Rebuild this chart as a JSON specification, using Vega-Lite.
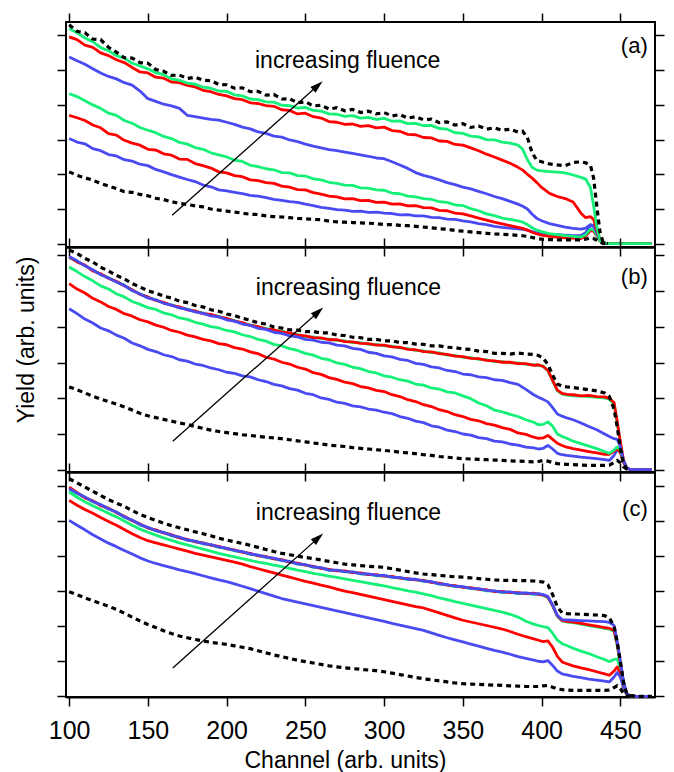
{
"$schema": "https://vega.github.io/schema/vega-lite/v6.json",
"background": "white",
"padding": {"left": 13, "top": 11, "right": 5, "bottom": 0},
"bounds": "flush",
"spacing": 0,
"config": {"view": {"stroke": "black", "strokeWidth": 2}, "font": "Liberation Sans"},
"resolve": {"scale": {"x": "independent", "y": "independent", "color": "independent"}},
"datasets": {
"a": [
{"x":100,"d1":2.07,"b1":3.03,"r1":3.70,"g1":4.32,"b2":5.38,"r2":5.96,"g2":6.20,"d2":6.31},
{"x":105,"d1":1.97,"b1":2.93,"r1":3.63,"g1":4.24,"b2":5.27,"r2":5.88,"g2":6.08,"d2":6.12},
{"x":110,"d1":1.90,"b1":2.88,"r1":3.55,"g1":4.12,"b2":5.17,"r2":5.72,"g2":5.93,"d2":6.08},
{"x":115,"d1":1.83,"b1":2.74,"r1":3.42,"g1":4.00,"b2":5.04,"r2":5.66,"g2":5.82,"d2":5.90},
{"x":120,"d1":1.74,"b1":2.68,"r1":3.34,"g1":3.90,"b2":4.92,"r2":5.50,"g2":5.65,"d2":5.88},
{"x":125,"d1":1.66,"b1":2.57,"r1":3.17,"g1":3.76,"b2":4.82,"r2":5.42,"g2":5.56,"d2":5.66},
{"x":130,"d1":1.59,"b1":2.53,"r1":3.13,"g1":3.70,"b2":4.75,"r2":5.30,"g2":5.42,"d2":5.52},
{"x":135,"d1":1.50,"b1":2.42,"r1":2.98,"g1":3.55,"b2":4.64,"r2":5.22,"g2":5.35,"d2":5.36},
{"x":140,"d1":1.48,"b1":2.38,"r1":2.90,"g1":3.47,"b2":4.57,"r2":5.08,"g2":5.20,"d2":5.35},
{"x":145,"d1":1.42,"b1":2.29,"r1":2.84,"g1":3.35,"b2":4.40,"r2":4.95,"g2":5.12,"d2":5.22},
{"x":150,"d1":1.38,"b1":2.25,"r1":2.72,"g1":3.27,"b2":4.18,"r2":4.92,"g2":5.04,"d2":5.20},
{"x":155,"d1":1.31,"b1":2.14,"r1":2.70,"g1":3.20,"b2":4.10,"r2":4.80,"g2":4.93,"d2":5.02},
{"x":160,"d1":1.27,"b1":2.07,"r1":2.59,"g1":3.09,"b2":4.02,"r2":4.77,"g2":4.87,"d2":4.97},
{"x":165,"d1":1.21,"b1":1.99,"r1":2.55,"g1":3.03,"b2":3.97,"r2":4.66,"g2":4.75,"d2":4.85},
{"x":170,"d1":1.16,"b1":1.92,"r1":2.44,"g1":2.92,"b2":3.90,"r2":4.64,"g2":4.71,"d2":4.86},
{"x":175,"d1":1.13,"b1":1.85,"r1":2.43,"g1":2.87,"b2":3.70,"r2":4.56,"g2":4.63,"d2":4.76},
{"x":180,"d1":1.09,"b1":1.79,"r1":2.31,"g1":2.77,"b2":3.66,"r2":4.52,"g2":4.60,"d2":4.80},
{"x":185,"d1":1.06,"b1":1.69,"r1":2.25,"g1":2.72,"b2":3.62,"r2":4.42,"g2":4.51,"d2":4.71},
{"x":190,"d1":1.00,"b1":1.64,"r1":2.18,"g1":2.62,"b2":3.58,"r2":4.38,"g2":4.48,"d2":4.70},
{"x":195,"d1":0.97,"b1":1.55,"r1":2.07,"g1":2.56,"b2":3.56,"r2":4.30,"g2":4.40,"d2":4.59},
{"x":200,"d1":0.94,"b1":1.52,"r1":2.04,"g1":2.50,"b2":3.50,"r2":4.26,"g2":4.39,"d2":4.58},
{"x":205,"d1":0.91,"b1":1.48,"r1":1.96,"g1":2.41,"b2":3.44,"r2":4.18,"g2":4.29,"d2":4.48},
{"x":210,"d1":0.88,"b1":1.44,"r1":1.93,"g1":2.37,"b2":3.36,"r2":4.15,"g2":4.26,"d2":4.49},
{"x":215,"d1":0.85,"b1":1.39,"r1":1.84,"g1":2.26,"b2":3.31,"r2":4.06,"g2":4.17,"d2":4.38},
{"x":220,"d1":0.84,"b1":1.37,"r1":1.82,"g1":2.22,"b2":3.22,"r2":4.04,"g2":4.15,"d2":4.39},
{"x":225,"d1":0.80,"b1":1.33,"r1":1.76,"g1":2.16,"b2":3.18,"r2":3.98,"g2":4.09,"d2":4.28},
{"x":230,"d1":0.78,"b1":1.28,"r1":1.74,"g1":2.13,"b2":3.10,"r2":3.96,"g2":4.08,"d2":4.30},
{"x":235,"d1":0.77,"b1":1.25,"r1":1.66,"g1":2.05,"b2":3.07,"r2":3.86,"g2":3.99,"d2":4.17},
{"x":240,"d1":0.75,"b1":1.21,"r1":1.63,"g1":2.04,"b2":2.99,"r2":3.84,"g2":3.98,"d2":4.18},
{"x":245,"d1":0.73,"b1":1.19,"r1":1.56,"g1":1.96,"b2":2.94,"r2":3.74,"g2":3.91,"d2":4.06},
{"x":250,"d1":0.72,"b1":1.14,"r1":1.55,"g1":1.95,"b2":2.87,"r2":3.76,"g2":3.93,"d2":4.09},
{"x":255,"d1":0.70,"b1":1.10,"r1":1.47,"g1":1.87,"b2":2.81,"r2":3.66,"g2":3.84,"d2":3.97},
{"x":260,"d1":0.69,"b1":1.05,"r1":1.43,"g1":1.84,"b2":2.76,"r2":3.62,"g2":3.82,"d2":3.99},
{"x":265,"d1":0.65,"b1":1.02,"r1":1.37,"g1":1.77,"b2":2.71,"r2":3.52,"g2":3.74,"d2":3.88},
{"x":270,"d1":0.63,"b1":0.98,"r1":1.35,"g1":1.74,"b2":2.68,"r2":3.50,"g2":3.73,"d2":3.92},
{"x":275,"d1":0.62,"b1":0.97,"r1":1.29,"g1":1.69,"b2":2.64,"r2":3.44,"g2":3.67,"d2":3.83},
{"x":280,"d1":0.61,"b1":0.93,"r1":1.30,"g1":1.68,"b2":2.60,"r2":3.45,"g2":3.69,"d2":3.87},
{"x":285,"d1":0.60,"b1":0.94,"r1":1.24,"g1":1.61,"b2":2.56,"r2":3.38,"g2":3.62,"d2":3.78},
{"x":290,"d1":0.59,"b1":0.90,"r1":1.25,"g1":1.60,"b2":2.52,"r2":3.40,"g2":3.64,"d2":3.82},
{"x":295,"d1":0.58,"b1":0.91,"r1":1.19,"g1":1.55,"b2":2.47,"r2":3.34,"g2":3.58,"d2":3.74},
{"x":300,"d1":0.55,"b1":0.88,"r1":1.20,"g1":1.54,"b2":2.45,"r2":3.36,"g2":3.61,"d2":3.78},
{"x":305,"d1":0.55,"b1":0.87,"r1":1.14,"g1":1.46,"b2":2.36,"r2":3.26,"g2":3.53,"d2":3.68},
{"x":310,"d1":0.53,"b1":0.83,"r1":1.15,"g1":1.44,"b2":2.27,"r2":3.24,"g2":3.54,"d2":3.72},
{"x":315,"d1":0.52,"b1":0.84,"r1":1.09,"g1":1.37,"b2":2.17,"r2":3.15,"g2":3.46,"d2":3.62},
{"x":320,"d1":0.50,"b1":0.80,"r1":1.10,"g1":1.35,"b2":2.05,"r2":3.14,"g2":3.47,"d2":3.66},
{"x":325,"d1":0.48,"b1":0.80,"r1":1.04,"g1":1.30,"b2":1.97,"r2":3.06,"g2":3.40,"d2":3.57},
{"x":330,"d1":0.46,"b1":0.76,"r1":1.03,"g1":1.28,"b2":1.91,"r2":3.05,"g2":3.41,"d2":3.59},
{"x":335,"d1":0.43,"b1":0.75,"r1":0.96,"g1":1.21,"b2":1.84,"r2":2.96,"g2":3.32,"d2":3.49},
{"x":340,"d1":0.42,"b1":0.71,"r1":0.95,"g1":1.19,"b2":1.76,"r2":2.95,"g2":3.30,"d2":3.51},
{"x":345,"d1":0.38,"b1":0.70,"r1":0.88,"g1":1.12,"b2":1.70,"r2":2.86,"g2":3.20,"d2":3.42},
{"x":350,"d1":0.36,"b1":0.66,"r1":0.86,"g1":1.10,"b2":1.63,"r2":2.84,"g2":3.18,"d2":3.46},
{"x":355,"d1":0.34,"b1":0.63,"r1":0.80,"g1":1.01,"b2":1.58,"r2":2.76,"g2":3.10,"d2":3.35},
{"x":360,"d1":0.32,"b1":0.58,"r1":0.74,"g1":0.95,"b2":1.51,"r2":2.68,"g2":3.08,"d2":3.39},
{"x":365,"d1":0.30,"b1":0.55,"r1":0.68,"g1":0.86,"b2":1.44,"r2":2.58,"g2":3.00,"d2":3.30},
{"x":370,"d1":0.28,"b1":0.50,"r1":0.62,"g1":0.81,"b2":1.36,"r2":2.50,"g2":2.99,"d2":3.34},
{"x":375,"d1":0.27,"b1":0.47,"r1":0.57,"g1":0.74,"b2":1.30,"r2":2.41,"g2":2.93,"d2":3.27},
{"x":380,"d1":0.26,"b1":0.45,"r1":0.52,"g1":0.70,"b2":1.22,"r2":2.32,"g2":2.90,"d2":3.30},
{"x":385,"d1":0.24,"b1":0.43,"r1":0.47,"g1":0.66,"b2":1.14,"r2":2.20,"g2":2.84,"d2":3.22},
{"x":388,"d1":0.23,"b1":0.41,"r1":0.44,"g1":0.62,"b2":1.08,"r2":2.12,"g2":2.72,"d2":3.24},
{"x":391,"d1":0.21,"b1":0.39,"r1":0.39,"g1":0.55,"b2":1.00,"r2":2.00,"g2":2.42,"d2":3.05},
{"x":394,"d1":0.18,"b1":0.35,"r1":0.33,"g1":0.46,"b2":0.85,"r2":1.89,"g2":2.20,"d2":2.62},
{"x":397,"d1":0.15,"b1":0.31,"r1":0.28,"g1":0.39,"b2":0.73,"r2":1.76,"g2":2.12,"d2":2.40},
{"x":400,"d1":0.13,"b1":0.29,"r1":0.25,"g1":0.35,"b2":0.66,"r2":1.62,"g2":2.10,"d2":2.36},
{"x":405,"d1":0.12,"b1":0.27,"r1":0.21,"g1":0.29,"b2":0.58,"r2":1.45,"g2":2.08,"d2":2.30},
{"x":410,"d1":0.11,"b1":0.26,"r1":0.19,"g1":0.26,"b2":0.53,"r2":1.36,"g2":2.06,"d2":2.27},
{"x":415,"d1":0.11,"b1":0.25,"r1":0.17,"g1":0.23,"b2":0.48,"r2":1.30,"g2":2.04,"d2":2.25},
{"x":420,"d1":0.11,"b1":0.23,"r1":0.16,"g1":0.21,"b2":0.44,"r2":1.20,"g2":1.98,"d2":2.34},
{"x":425,"d1":0.11,"b1":0.24,"r1":0.15,"g1":0.19,"b2":0.42,"r2":0.88,"g2":1.91,"d2":2.36},
{"x":428,"d1":0.13,"b1":0.32,"r1":0.22,"g1":0.26,"b2":0.45,"r2":0.75,"g2":1.86,"d2":2.33},
{"x":431,"d1":0.17,"b1":0.52,"r1":0.38,"g1":0.42,"b2":0.55,"r2":0.78,"g2":1.62,"d2":2.26},
{"x":433,"d1":0.15,"b1":0.50,"r1":0.36,"g1":0.40,"b2":0.52,"r2":0.70,"g2":1.10,"d2":1.90},
{"x":435,"d1":0.10,"b1":0.30,"r1":0.22,"g1":0.25,"b2":0.32,"r2":0.40,"g2":0.50,"d2":1.10},
{"x":437,"d1":0.04,"b1":0.10,"r1":0.08,"g1":0.09,"b2":0.12,"r2":0.14,"g2":0.12,"d2":0.35},
{"x":439,"d1":0.01,"b1":0.02,"r1":0.02,"g1":0.02,"b2":0.03,"r2":0.03,"g2":0.02,"d2":0.05},
{"x":442,"d1":0,"b1":0,"r1":0,"g1":0,"b2":0,"r2":0,"g2":0,"d2":0},
{"x":450,"d1":null,"b1":0,"r1":0,"g1":0,"b2":0,"r2":0,"g2":0,"d2":null},
{"x":460,"d1":null,"b1":0,"r1":0,"g1":0,"b2":0,"r2":0,"g2":0,"d2":null},
{"x":470,"d1":null,"b1":0,"r1":0,"g1":0,"b2":0,"r2":0,"g2":0,"d2":null}
],
"b": [
{"x":100,"d1":2.32,"b1":4.51,"r1":5.21,"g1":5.68,"b2":5.97,"r2":5.96,"g2":5.94,"d2":6.15},
{"x":105,"d1":2.24,"b1":4.37,"r1":5.06,"g1":5.55,"b2":5.85,"r2":5.82,"g2":5.84,"d2":6.06},
{"x":110,"d1":2.15,"b1":4.22,"r1":4.95,"g1":5.41,"b2":5.71,"r2":5.73,"g2":5.71,"d2":5.92},
{"x":115,"d1":2.06,"b1":4.11,"r1":4.80,"g1":5.29,"b2":5.60,"r2":5.57,"g2":5.59,"d2":5.82},
{"x":120,"d1":1.98,"b1":3.97,"r1":4.70,"g1":5.15,"b2":5.46,"r2":5.49,"g2":5.47,"d2":5.67},
{"x":125,"d1":1.91,"b1":3.89,"r1":4.57,"g1":5.06,"b2":5.37,"r2":5.36,"g2":5.38,"d2":5.57},
{"x":130,"d1":1.84,"b1":3.77,"r1":4.49,"g1":4.93,"b2":5.26,"r2":5.28,"g2":5.26,"d2":5.44},
{"x":135,"d1":1.76,"b1":3.68,"r1":4.37,"g1":4.84,"b2":5.16,"r2":5.15,"g2":5.17,"d2":5.35},
{"x":140,"d1":1.67,"b1":3.55,"r1":4.30,"g1":4.71,"b2":5.02,"r2":5.04,"g2":5.02,"d2":5.21},
{"x":145,"d1":1.58,"b1":3.47,"r1":4.20,"g1":4.63,"b2":4.92,"r2":4.91,"g2":4.93,"d2":5.12},
{"x":150,"d1":1.51,"b1":3.37,"r1":4.14,"g1":4.54,"b2":4.81,"r2":4.84,"g2":4.82,"d2":5.01},
{"x":155,"d1":1.46,"b1":3.31,"r1":4.05,"g1":4.49,"b2":4.76,"r2":4.74,"g2":4.76,"d2":4.95},
{"x":160,"d1":1.41,"b1":3.22,"r1":3.99,"g1":4.39,"b2":4.66,"r2":4.69,"g2":4.67,"d2":4.86},
{"x":165,"d1":1.36,"b1":3.17,"r1":3.90,"g1":4.34,"b2":4.61,"r2":4.60,"g2":4.62,"d2":4.81},
{"x":170,"d1":1.31,"b1":3.08,"r1":3.85,"g1":4.25,"b2":4.53,"r2":4.56,"g2":4.54,"d2":4.72},
{"x":175,"d1":1.27,"b1":3.04,"r1":3.77,"g1":4.21,"b2":4.49,"r2":4.48,"g2":4.50,"d2":4.68},
{"x":180,"d1":1.21,"b1":2.96,"r1":3.72,"g1":4.13,"b2":4.42,"r2":4.45,"g2":4.43,"d2":4.60},
{"x":185,"d1":1.16,"b1":2.92,"r1":3.65,"g1":4.08,"b2":4.38,"r2":4.37,"g2":4.39,"d2":4.56},
{"x":190,"d1":1.11,"b1":2.85,"r1":3.61,"g1":4.01,"b2":4.31,"r2":4.35,"g2":4.33,"d2":4.48},
{"x":195,"d1":1.07,"b1":2.80,"r1":3.53,"g1":3.97,"b2":4.28,"r2":4.28,"g2":4.30,"d2":4.44},
{"x":200,"d1":1.04,"b1":2.73,"r1":3.50,"g1":3.90,"b2":4.20,"r2":4.24,"g2":4.22,"d2":4.36},
{"x":205,"d1":1.01,"b1":2.70,"r1":3.42,"g1":3.86,"b2":4.16,"r2":4.16,"g2":4.18,"d2":4.32},
{"x":210,"d1":0.98,"b1":2.63,"r1":3.38,"g1":3.78,"b2":4.08,"r2":4.12,"g2":4.10,"d2":4.24},
{"x":215,"d1":0.96,"b1":2.60,"r1":3.30,"g1":3.73,"b2":4.04,"r2":4.04,"g2":4.06,"d2":4.19},
{"x":220,"d1":0.93,"b1":2.52,"r1":3.25,"g1":3.65,"b2":3.96,"r2":4.01,"g2":3.99,"d2":4.11},
{"x":225,"d1":0.91,"b1":2.47,"r1":3.15,"g1":3.60,"b2":3.93,"r2":3.94,"g2":3.96,"d2":4.08},
{"x":230,"d1":0.89,"b1":2.39,"r1":3.10,"g1":3.51,"b2":3.85,"r2":3.92,"g2":3.90,"d2":4.00},
{"x":235,"d1":0.87,"b1":2.35,"r1":3.01,"g1":3.47,"b2":3.82,"r2":3.86,"g2":3.88,"d2":3.97},
{"x":240,"d1":0.84,"b1":2.27,"r1":2.96,"g1":3.39,"b2":3.75,"r2":3.83,"g2":3.81,"d2":3.92},
{"x":245,"d1":0.81,"b1":2.23,"r1":2.87,"g1":3.34,"b2":3.72,"r2":3.77,"g2":3.79,"d2":3.91},
{"x":250,"d1":0.78,"b1":2.14,"r1":2.82,"g1":3.26,"b2":3.65,"r2":3.75,"g2":3.73,"d2":3.87},
{"x":255,"d1":0.75,"b1":2.10,"r1":2.72,"g1":3.21,"b2":3.63,"r2":3.70,"g2":3.72,"d2":3.87},
{"x":260,"d1":0.72,"b1":2.01,"r1":2.67,"g1":3.12,"b2":3.57,"r2":3.69,"g2":3.67,"d2":3.83},
{"x":265,"d1":0.69,"b1":1.97,"r1":2.58,"g1":3.08,"b2":3.55,"r2":3.64,"g2":3.66,"d2":3.83},
{"x":270,"d1":0.67,"b1":1.89,"r1":2.53,"g1":2.99,"b2":3.49,"r2":3.64,"g2":3.62,"d2":3.77},
{"x":275,"d1":0.65,"b1":1.86,"r1":2.45,"g1":2.95,"b2":3.47,"r2":3.59,"g2":3.61,"d2":3.76},
{"x":280,"d1":0.62,"b1":1.79,"r1":2.41,"g1":2.87,"b2":3.40,"r2":3.58,"g2":3.56,"d2":3.71},
{"x":285,"d1":0.60,"b1":1.76,"r1":2.33,"g1":2.83,"b2":3.37,"r2":3.54,"g2":3.56,"d2":3.70},
{"x":290,"d1":0.58,"b1":1.70,"r1":2.29,"g1":2.75,"b2":3.29,"r2":3.53,"g2":3.51,"d2":3.65},
{"x":295,"d1":0.56,"b1":1.67,"r1":2.22,"g1":2.71,"b2":3.26,"r2":3.49,"g2":3.51,"d2":3.65},
{"x":300,"d1":0.54,"b1":1.61,"r1":2.19,"g1":2.63,"b2":3.19,"r2":3.49,"g2":3.47,"d2":3.61},
{"x":305,"d1":0.52,"b1":1.57,"r1":2.10,"g1":2.59,"b2":3.16,"r2":3.44,"g2":3.46,"d2":3.61},
{"x":310,"d1":0.49,"b1":1.49,"r1":2.05,"g1":2.52,"b2":3.09,"r2":3.43,"g2":3.41,"d2":3.56},
{"x":315,"d1":0.47,"b1":1.44,"r1":1.96,"g1":2.48,"b2":3.06,"r2":3.37,"g2":3.39,"d2":3.56},
{"x":320,"d1":0.45,"b1":1.36,"r1":1.91,"g1":2.40,"b2":2.98,"r2":3.36,"g2":3.34,"d2":3.52},
{"x":325,"d1":0.42,"b1":1.32,"r1":1.82,"g1":2.37,"b2":2.95,"r2":3.31,"g2":3.33,"d2":3.51},
{"x":330,"d1":0.40,"b1":1.23,"r1":1.77,"g1":2.29,"b2":2.88,"r2":3.30,"g2":3.28,"d2":3.47},
{"x":335,"d1":0.37,"b1":1.19,"r1":1.68,"g1":2.26,"b2":2.85,"r2":3.25,"g2":3.27,"d2":3.47},
{"x":340,"d1":0.35,"b1":1.11,"r1":1.63,"g1":2.18,"b2":2.78,"r2":3.23,"g2":3.21,"d2":3.43},
{"x":345,"d1":0.33,"b1":1.07,"r1":1.54,"g1":2.15,"b2":2.75,"r2":3.18,"g2":3.20,"d2":3.42},
{"x":350,"d1":0.31,"b1":1.00,"r1":1.49,"g1":2.07,"b2":2.68,"r2":3.17,"g2":3.15,"d2":3.38},
{"x":355,"d1":0.30,"b1":0.97,"r1":1.41,"g1":1.99,"b2":2.66,"r2":3.12,"g2":3.14,"d2":3.37},
{"x":360,"d1":0.29,"b1":0.90,"r1":1.37,"g1":1.87,"b2":2.60,"r2":3.11,"g2":3.09,"d2":3.32},
{"x":365,"d1":0.28,"b1":0.87,"r1":1.29,"g1":1.79,"b2":2.58,"r2":3.06,"g2":3.08,"d2":3.31},
{"x":370,"d1":0.27,"b1":0.80,"r1":1.25,"g1":1.67,"b2":2.52,"r2":3.05,"g2":3.03,"d2":3.26},
{"x":375,"d1":0.26,"b1":0.78,"r1":1.18,"g1":1.62,"b2":2.50,"r2":3.01,"g2":3.03,"d2":3.26},
{"x":380,"d1":0.25,"b1":0.72,"r1":1.13,"g1":1.55,"b2":2.44,"r2":3.01,"g2":2.99,"d2":3.24},
{"x":385,"d1":0.24,"b1":0.69,"r1":1.03,"g1":1.49,"b2":2.39,"r2":2.97,"g2":2.99,"d2":3.27},
{"x":390,"d1":0.23,"b1":0.63,"r1":0.99,"g1":1.40,"b2":2.25,"r2":2.97,"g2":2.95,"d2":3.24},
{"x":395,"d1":0.22,"b1":0.61,"r1":0.91,"g1":1.33,"b2":2.10,"r2":2.92,"g2":2.94,"d2":3.23},
{"x":398,"d1":0.23,"b1":0.58,"r1":0.88,"g1":1.26,"b2":2.03,"r2":2.94,"g2":2.92,"d2":3.20},
{"x":401,"d1":0.26,"b1":0.60,"r1":0.89,"g1":1.27,"b2":1.97,"r2":2.89,"g2":2.90,"d2":3.12},
{"x":404,"d1":0.24,"b1":0.68,"r1":0.96,"g1":1.34,"b2":1.90,"r2":2.78,"g2":2.77,"d2":2.95},
{"x":407,"d1":0.20,"b1":0.58,"r1":0.85,"g1":1.22,"b2":1.74,"r2":2.50,"g2":2.49,"d2":2.65},
{"x":410,"d1":0.17,"b1":0.46,"r1":0.74,"g1":1.00,"b2":1.56,"r2":2.23,"g2":2.21,"d2":2.40},
{"x":413,"d1":0.16,"b1":0.42,"r1":0.68,"g1":0.93,"b2":1.50,"r2":2.14,"g2":2.12,"d2":2.34},
{"x":416,"d1":0.15,"b1":0.40,"r1":0.63,"g1":0.88,"b2":1.45,"r2":2.11,"g2":2.09,"d2":2.32},
{"x":420,"d1":0.14,"b1":0.38,"r1":0.59,"g1":0.80,"b2":1.40,"r2":2.10,"g2":2.07,"d2":2.30},
{"x":425,"d1":0.13,"b1":0.35,"r1":0.55,"g1":0.73,"b2":1.31,"r2":2.07,"g2":2.06,"d2":2.27},
{"x":430,"d1":0.12,"b1":0.33,"r1":0.51,"g1":0.66,"b2":1.21,"r2":2.08,"g2":2.05,"d2":2.24},
{"x":435,"d1":0.12,"b1":0.31,"r1":0.47,"g1":0.59,"b2":1.12,"r2":2.05,"g2":2.03,"d2":2.21},
{"x":440,"d1":0.12,"b1":0.28,"r1":0.43,"g1":0.51,"b2":1.00,"r2":2.04,"g2":2.01,"d2":2.15},
{"x":443,"d1":0.13,"b1":0.26,"r1":0.43,"g1":0.46,"b2":0.93,"r2":2.00,"g2":1.97,"d2":2.05},
{"x":446,"d1":0.20,"b1":0.40,"r1":0.52,"g1":0.55,"b2":0.87,"r2":1.88,"g2":1.84,"d2":1.70},
{"x":448,"d1":0.26,"b1":0.56,"r1":0.59,"g1":0.64,"b2":0.85,"r2":1.35,"g2":1.30,"d2":1.20},
{"x":450,"d1":0.20,"b1":0.50,"r1":0.48,"g1":0.55,"b2":0.65,"r2":0.78,"g2":0.75,"d2":0.60},
{"x":452,"d1":0.08,"b1":0.25,"r1":0.20,"g1":0.25,"b2":0.25,"r2":0.27,"g2":0.25,"d2":0.15},
{"x":454,"d1":0.02,"b1":0.06,"r1":0.04,"g1":0.05,"b2":0.05,"r2":0.05,"g2":0.05,"d2":0.03},
{"x":456,"d1":0,"b1":0.01,"r1":0.01,"g1":0.01,"b2":0.01,"r2":0.01,"g2":0.01,"d2":0},
{"x":460,"d1":null,"b1":0,"r1":0,"g1":0,"b2":0,"r2":0,"g2":0,"d2":null},
{"x":466,"d1":null,"b1":0,"r1":0,"g1":0,"b2":0,"r2":0,"g2":0,"d2":null},
{"x":470,"d1":null,"b1":0,"r1":0,"g1":0,"b2":0,"r2":0,"g2":0,"d2":null}
],
"c": [
{"x":100,"d1":2.98,"b1":5.02,"r1":5.59,"g1":5.83,"b2":5.92,"r2":5.97,"g2":5.88,"d2":6.21},
{"x":105,"d1":2.90,"b1":4.88,"r1":5.45,"g1":5.68,"b2":5.80,"r2":5.82,"g2":5.78,"d2":6.09},
{"x":110,"d1":2.81,"b1":4.75,"r1":5.33,"g1":5.55,"b2":5.69,"r2":5.66,"g2":5.68,"d2":5.97},
{"x":115,"d1":2.73,"b1":4.61,"r1":5.22,"g1":5.44,"b2":5.56,"r2":5.58,"g2":5.55,"d2":5.85},
{"x":120,"d1":2.65,"b1":4.49,"r1":5.10,"g1":5.33,"b2":5.47,"r2":5.44,"g2":5.46,"d2":5.73},
{"x":125,"d1":2.57,"b1":4.37,"r1":4.99,"g1":5.22,"b2":5.35,"r2":5.37,"g2":5.34,"d2":5.61},
{"x":130,"d1":2.48,"b1":4.27,"r1":4.88,"g1":5.12,"b2":5.26,"r2":5.24,"g2":5.25,"d2":5.51},
{"x":135,"d1":2.37,"b1":4.16,"r1":4.76,"g1":5.00,"b2":5.12,"r2":5.14,"g2":5.11,"d2":5.42},
{"x":140,"d1":2.26,"b1":4.06,"r1":4.64,"g1":4.88,"b2":5.03,"r2":5.01,"g2":5.02,"d2":5.30},
{"x":145,"d1":2.15,"b1":3.95,"r1":4.53,"g1":4.77,"b2":4.90,"r2":4.92,"g2":4.89,"d2":5.19},
{"x":150,"d1":2.05,"b1":3.86,"r1":4.44,"g1":4.68,"b2":4.82,"r2":4.80,"g2":4.81,"d2":5.10},
{"x":155,"d1":1.96,"b1":3.79,"r1":4.38,"g1":4.60,"b2":4.73,"r2":4.75,"g2":4.72,"d2":5.02},
{"x":160,"d1":1.87,"b1":3.73,"r1":4.32,"g1":4.52,"b2":4.68,"r2":4.66,"g2":4.67,"d2":4.94},
{"x":165,"d1":1.79,"b1":3.67,"r1":4.26,"g1":4.45,"b2":4.59,"r2":4.61,"g2":4.58,"d2":4.87},
{"x":170,"d1":1.72,"b1":3.61,"r1":4.20,"g1":4.38,"b2":4.54,"r2":4.52,"g2":4.53,"d2":4.81},
{"x":175,"d1":1.67,"b1":3.56,"r1":4.14,"g1":4.32,"b2":4.46,"r2":4.48,"g2":4.45,"d2":4.75},
{"x":180,"d1":1.62,"b1":3.50,"r1":4.08,"g1":4.26,"b2":4.43,"r2":4.41,"g2":4.42,"d2":4.69},
{"x":185,"d1":1.58,"b1":3.44,"r1":4.03,"g1":4.20,"b2":4.36,"r2":4.38,"g2":4.35,"d2":4.64},
{"x":190,"d1":1.54,"b1":3.38,"r1":3.98,"g1":4.14,"b2":4.33,"r2":4.31,"g2":4.32,"d2":4.58},
{"x":195,"d1":1.51,"b1":3.32,"r1":3.93,"g1":4.08,"b2":4.26,"r2":4.28,"g2":4.25,"d2":4.51},
{"x":200,"d1":1.48,"b1":3.27,"r1":3.88,"g1":4.03,"b2":4.23,"r2":4.21,"g2":4.22,"d2":4.46},
{"x":205,"d1":1.44,"b1":3.21,"r1":3.83,"g1":3.98,"b2":4.16,"r2":4.18,"g2":4.15,"d2":4.41},
{"x":210,"d1":1.40,"b1":3.14,"r1":3.77,"g1":3.93,"b2":4.13,"r2":4.11,"g2":4.12,"d2":4.36},
{"x":215,"d1":1.36,"b1":3.07,"r1":3.70,"g1":3.88,"b2":4.06,"r2":4.08,"g2":4.05,"d2":4.31},
{"x":220,"d1":1.30,"b1":3.00,"r1":3.64,"g1":3.83,"b2":4.03,"r2":4.01,"g2":4.02,"d2":4.25},
{"x":225,"d1":1.24,"b1":2.93,"r1":3.58,"g1":3.79,"b2":3.97,"r2":3.99,"g2":3.96,"d2":4.19},
{"x":230,"d1":1.18,"b1":2.86,"r1":3.52,"g1":3.74,"b2":3.94,"r2":3.92,"g2":3.93,"d2":4.13},
{"x":235,"d1":1.13,"b1":2.79,"r1":3.46,"g1":3.70,"b2":3.88,"r2":3.90,"g2":3.87,"d2":4.08},
{"x":240,"d1":1.08,"b1":2.74,"r1":3.40,"g1":3.65,"b2":3.85,"r2":3.83,"g2":3.84,"d2":4.04},
{"x":245,"d1":1.03,"b1":2.69,"r1":3.34,"g1":3.60,"b2":3.78,"r2":3.80,"g2":3.77,"d2":4.00},
{"x":250,"d1":0.99,"b1":2.64,"r1":3.28,"g1":3.56,"b2":3.76,"r2":3.74,"g2":3.75,"d2":3.96},
{"x":255,"d1":0.95,"b1":2.59,"r1":3.23,"g1":3.51,"b2":3.69,"r2":3.71,"g2":3.68,"d2":3.93},
{"x":260,"d1":0.91,"b1":2.54,"r1":3.17,"g1":3.47,"b2":3.67,"r2":3.65,"g2":3.66,"d2":3.89},
{"x":265,"d1":0.87,"b1":2.49,"r1":3.12,"g1":3.43,"b2":3.60,"r2":3.62,"g2":3.59,"d2":3.85},
{"x":270,"d1":0.84,"b1":2.44,"r1":3.06,"g1":3.39,"b2":3.60,"r2":3.58,"g2":3.59,"d2":3.81},
{"x":275,"d1":0.81,"b1":2.39,"r1":3.00,"g1":3.35,"b2":3.56,"r2":3.58,"g2":3.55,"d2":3.77},
{"x":280,"d1":0.79,"b1":2.34,"r1":2.96,"g1":3.31,"b2":3.55,"r2":3.53,"g2":3.54,"d2":3.75},
{"x":285,"d1":0.77,"b1":2.29,"r1":2.91,"g1":3.27,"b2":3.50,"r2":3.52,"g2":3.49,"d2":3.73},
{"x":290,"d1":0.75,"b1":2.24,"r1":2.86,"g1":3.23,"b2":3.49,"r2":3.47,"g2":3.48,"d2":3.71},
{"x":295,"d1":0.73,"b1":2.19,"r1":2.81,"g1":3.19,"b2":3.45,"r2":3.47,"g2":3.44,"d2":3.70},
{"x":300,"d1":0.70,"b1":2.14,"r1":2.76,"g1":3.15,"b2":3.45,"r2":3.43,"g2":3.44,"d2":3.68},
{"x":305,"d1":0.66,"b1":2.08,"r1":2.71,"g1":3.10,"b2":3.40,"r2":3.42,"g2":3.39,"d2":3.64},
{"x":310,"d1":0.62,"b1":2.03,"r1":2.66,"g1":3.06,"b2":3.39,"r2":3.37,"g2":3.38,"d2":3.60},
{"x":315,"d1":0.58,"b1":1.98,"r1":2.61,"g1":3.01,"b2":3.34,"r2":3.36,"g2":3.33,"d2":3.56},
{"x":320,"d1":0.54,"b1":1.93,"r1":2.56,"g1":2.97,"b2":3.34,"r2":3.32,"g2":3.33,"d2":3.52},
{"x":325,"d1":0.50,"b1":1.88,"r1":2.52,"g1":2.92,"b2":3.29,"r2":3.31,"g2":3.28,"d2":3.49},
{"x":330,"d1":0.47,"b1":1.81,"r1":2.45,"g1":2.87,"b2":3.27,"r2":3.25,"g2":3.26,"d2":3.47},
{"x":335,"d1":0.44,"b1":1.74,"r1":2.38,"g1":2.81,"b2":3.21,"r2":3.23,"g2":3.20,"d2":3.45},
{"x":340,"d1":0.41,"b1":1.67,"r1":2.31,"g1":2.76,"b2":3.19,"r2":3.17,"g2":3.18,"d2":3.43},
{"x":345,"d1":0.38,"b1":1.61,"r1":2.24,"g1":2.70,"b2":3.14,"r2":3.16,"g2":3.13,"d2":3.41},
{"x":350,"d1":0.36,"b1":1.55,"r1":2.17,"g1":2.65,"b2":3.13,"r2":3.11,"g2":3.12,"d2":3.40},
{"x":355,"d1":0.35,"b1":1.49,"r1":2.12,"g1":2.60,"b2":3.08,"r2":3.10,"g2":3.07,"d2":3.38},
{"x":360,"d1":0.34,"b1":1.43,"r1":2.07,"g1":2.55,"b2":3.07,"r2":3.05,"g2":3.06,"d2":3.36},
{"x":365,"d1":0.33,"b1":1.37,"r1":2.02,"g1":2.50,"b2":3.02,"r2":3.04,"g2":3.01,"d2":3.34},
{"x":370,"d1":0.32,"b1":1.31,"r1":1.97,"g1":2.45,"b2":3.01,"r2":2.99,"g2":3.00,"d2":3.32},
{"x":375,"d1":0.31,"b1":1.26,"r1":1.92,"g1":2.40,"b2":2.97,"r2":2.99,"g2":2.96,"d2":3.31},
{"x":380,"d1":0.30,"b1":1.20,"r1":1.85,"g1":2.34,"b2":2.98,"r2":2.96,"g2":2.97,"d2":3.31},
{"x":385,"d1":0.29,"b1":1.13,"r1":1.77,"g1":2.26,"b2":2.94,"r2":2.96,"g2":2.93,"d2":3.30},
{"x":390,"d1":0.28,"b1":1.08,"r1":1.70,"g1":2.14,"b2":2.95,"r2":2.93,"g2":2.94,"d2":3.30},
{"x":395,"d1":0.28,"b1":1.03,"r1":1.64,"g1":2.06,"b2":2.92,"r2":2.94,"g2":2.91,"d2":3.29},
{"x":398,"d1":0.28,"b1":1.00,"r1":1.60,"g1":2.02,"b2":2.93,"r2":2.91,"g2":2.92,"d2":3.28},
{"x":401,"d1":0.30,"b1":0.98,"r1":1.56,"g1":1.99,"b2":2.90,"r2":2.89,"g2":2.88,"d2":3.26},
{"x":404,"d1":0.31,"b1":1.02,"r1":1.58,"g1":1.96,"b2":2.85,"r2":2.83,"g2":2.82,"d2":3.18},
{"x":407,"d1":0.26,"b1":0.88,"r1":1.40,"g1":1.80,"b2":2.61,"r2":2.59,"g2":2.58,"d2":2.90},
{"x":410,"d1":0.21,"b1":0.72,"r1":1.14,"g1":1.60,"b2":2.31,"r2":2.29,"g2":2.28,"d2":2.55},
{"x":413,"d1":0.19,"b1":0.64,"r1":0.98,"g1":1.50,"b2":2.19,"r2":2.16,"g2":2.15,"d2":2.38},
{"x":416,"d1":0.18,"b1":0.61,"r1":0.93,"g1":1.45,"b2":2.18,"r2":2.14,"g2":2.12,"d2":2.36},
{"x":420,"d1":0.17,"b1":0.57,"r1":0.87,"g1":1.37,"b2":2.17,"r2":2.12,"g2":2.10,"d2":2.35},
{"x":425,"d1":0.17,"b1":0.53,"r1":0.81,"g1":1.29,"b2":2.16,"r2":2.08,"g2":2.06,"d2":2.34},
{"x":430,"d1":0.17,"b1":0.49,"r1":0.76,"g1":1.22,"b2":2.15,"r2":2.04,"g2":2.02,"d2":2.33},
{"x":435,"d1":0.17,"b1":0.46,"r1":0.70,"g1":1.13,"b2":2.14,"r2":2.00,"g2":1.98,"d2":2.32},
{"x":440,"d1":0.17,"b1":0.43,"r1":0.64,"g1":1.05,"b2":2.13,"r2":1.96,"g2":1.94,"d2":2.30},
{"x":443,"d1":0.18,"b1":0.41,"r1":0.60,"g1":0.99,"b2":2.11,"r2":1.94,"g2":1.92,"d2":2.24},
{"x":446,"d1":0.25,"b1":0.55,"r1":0.72,"g1":1.05,"b2":2.02,"r2":1.88,"g2":1.85,"d2":2.00},
{"x":448,"d1":0.30,"b1":0.68,"r1":0.84,"g1":1.07,"b2":1.58,"r2":1.50,"g2":1.45,"d2":1.55},
{"x":450,"d1":0.22,"b1":0.55,"r1":0.65,"g1":0.80,"b2":1.02,"r2":0.95,"g2":0.90,"d2":1.00},
{"x":452,"d1":0.08,"b1":0.25,"r1":0.25,"g1":0.35,"b2":0.42,"r2":0.40,"g2":0.38,"d2":0.40},
{"x":454,"d1":0.02,"b1":0.06,"r1":0.05,"g1":0.07,"b2":0.08,"r2":0.08,"g2":0.07,"d2":0.08},
{"x":456,"d1":0,"b1":0.01,"r1":0.01,"g1":0.01,"b2":0.02,"r2":0.02,"g2":0.02,"d2":0.02},
{"x":460,"d1":null,"b1":0,"r1":0,"g1":0,"b2":0,"r2":0,"g2":0,"d2":0},
{"x":466,"d1":null,"b1":0,"r1":0,"g1":0,"b2":0,"r2":0,"g2":0,"d2":0},
{"x":470,"d1":null,"b1":0,"r1":0,"g1":0,"b2":0,"r2":0,"g2":0,"d2":0}
]
},
"vconcat": [
{
"width": 589, "height": 225,
"resolve": {"axis": {"x": "independent", "y": "independent"}},
"layer": [
{"data": {"name": "a"}, "transform": [{"fold": ["b1","r1","g1","b2","r2","g2"], "as": ["s","v"]}],
 "mark": {"type": "line", "strokeWidth": 2.8, "strokeJoin": "round"},
 "encoding": {
  "x": {"field": "x", "type": "quantitative", "scale": {"domain": [98, 472], "nice": false, "zero": false},
        "axis": {"orient": "bottom", "values": [100,150,200,250,300,350,400,450], "labels": false, "tickSize": 9, "tickWidth": 1.5, "tickColor": "black", "domain": true, "domainColor": "black", "domainWidth": 2.5, "grid": false, "title": null}},
  "y": {"field": "v", "type": "quantitative", "scale": {"domain": [-0.095, 6.389], "nice": false, "zero": false},
        "axis": {"orient": "left", "values": [0,1,2,3,4,5,6], "labels": false, "tickSize": 9, "tickWidth": 1.5, "tickColor": "black", "domain": false, "grid": false, "title": null}},
  "color": {"field": "s", "type": "nominal", "scale": {"domain": ["b1","r1","g1","b2","r2","g2"], "range": ["#4a4af2","#ff0000","#14f078","#4a4af2","#ff0000","#14f078"]}, "legend": null}
 }},
{"data": {"name": "a"}, "transform": [{"fold": ["d1","d2"], "as": ["s","v"]}],
 "mark": {"type": "line", "color": "black", "strokeWidth": 3.2, "strokeDash": [5,4]},
 "encoding": {
  "x": {"field": "x", "type": "quantitative", "axis": {"orient": "top", "values": [100,150,200,250,300,350,400,450], "labels": false, "tickSize": 9, "tickWidth": 1.5, "tickColor": "black", "domain": false, "grid": false, "title": null}},
  "y": {"field": "v", "type": "quantitative", "axis": {"orient": "right", "values": [0,1,2,3,4,5,6], "labels": false, "tickSize": 9, "tickWidth": 1.5, "tickColor": "black", "domain": false, "grid": false, "title": null}},
  "detail": {"field": "s"}
 }},
{"data": {"values": [{"x": 165.4, "y": 0.82, "x2": 257.9, "y2": 4.556}]},
 "mark": {"type": "rule", "color": "black", "strokeWidth": 1.3},
 "encoding": {"x": {"field": "x", "type": "quantitative", "axis": null}, "y": {"field": "y", "type": "quantitative", "axis": null}, "x2": {"field": "x2"}, "y2": {"field": "y2"}}},
{"data": {"values": [{"x": 257.9, "y": 4.556}]},
 "mark": {"type": "point", "shape": "M0,-1L-0.6,1L0.6,1Z", "size": 169, "angle": 48.4, "filled": true, "color": "black", "opacity": 1},
 "encoding": {"x": {"field": "x", "type": "quantitative", "axis": null}, "y": {"field": "y", "type": "quantitative", "axis": null}}},
{"data": {"values": [{"x": 218, "y": 5.07, "t": "increasing fluence"}]},
 "mark": {"type": "text", "align": "left", "baseline": "alphabetic", "font": "Liberation Sans", "fontSize": 23, "color": "black"},
 "encoding": {"x": {"field": "x", "type": "quantitative", "axis": null}, "y": {"field": "y", "type": "quantitative", "axis": null}, "text": {"field": "t"}}},
{"data": {"values": [{"x": 467.4, "y": 5.51, "t": "(a)"}]},
 "mark": {"type": "text", "align": "right", "baseline": "alphabetic", "font": "Liberation Sans", "fontSize": 22, "color": "black"},
 "encoding": {"x": {"field": "x", "type": "quantitative", "axis": null}, "y": {"field": "y", "type": "quantitative", "axis": null}, "text": {"field": "t"}}}
]
},
{
"width": 589, "height": 225,
"resolve": {"axis": {"x": "independent", "y": "independent"}},
"layer": [
{"data": {"name": "b"}, "transform": [{"fold": ["b1","r1","g1","g2","r2","b2"], "as": ["s","v"]}],
 "mark": {"type": "line", "strokeWidth": 2.8, "strokeJoin": "round"},
 "encoding": {
  "x": {"field": "x", "type": "quantitative", "scale": {"domain": [98, 472], "nice": false, "zero": false},
        "axis": {"orient": "bottom", "values": [100,150,200,250,300,350,400,450], "labels": false, "tickSize": 9, "tickWidth": 1.5, "tickColor": "black", "domain": true, "domainColor": "black", "domainWidth": 2.5, "grid": false, "title": null}},
  "y": {"field": "v", "type": "quantitative", "scale": {"domain": [-0.064, 6.238], "nice": false, "zero": false},
        "axis": {"orient": "left", "values": [0,1,2,3,4,5,6], "labels": false, "tickSize": 9, "tickWidth": 1.5, "tickColor": "black", "domain": false, "grid": false,
                 "title": "Yield (arb. units)", "titleFont": "Liberation Sans", "titleFontSize": 23, "titleFontWeight": "normal", "titleColor": "black", "titleX": -33, "titleY": 92.5, "titleAlign": "center", "titleBaseline": "alphabetic", "titleAngle": 270}},
  "color": {"field": "s", "type": "nominal", "scale": {"domain": ["b1","r1","g1","b2","r2","g2"], "range": ["#4a4af2","#ff0000","#14f078","#4a4af2","#ff0000","#14f078"]}, "legend": null}
 }},
{"data": {"name": "b"}, "transform": [{"fold": ["d1","d2"], "as": ["s","v"]}],
 "mark": {"type": "line", "color": "black", "strokeWidth": 3.2, "strokeDash": [5,4]},
 "encoding": {
  "x": {"field": "x", "type": "quantitative", "axis": {"orient": "top", "values": [100,150,200,250,300,350,400,450], "labels": false, "tickSize": 9, "tickWidth": 1.5, "tickColor": "black", "domain": false, "grid": false, "title": null}},
  "y": {"field": "v", "type": "quantitative", "axis": {"orient": "right", "values": [0,1,2,3,4,5,6], "labels": false, "tickSize": 9, "tickWidth": 1.5, "tickColor": "black", "domain": false, "grid": false, "title": null}},
  "detail": {"field": "s"}
 }},
{"data": {"values": [{"x": 165.8, "y": 0.80, "x2": 258.2, "y2": 4.42}]},
 "mark": {"type": "rule", "color": "black", "strokeWidth": 1.3},
 "encoding": {"x": {"field": "x", "type": "quantitative", "axis": null}, "y": {"field": "y", "type": "quantitative", "axis": null}, "x2": {"field": "x2"}, "y2": {"field": "y2"}}},
{"data": {"values": [{"x": 258.2, "y": 4.42}]},
 "mark": {"type": "point", "shape": "M0,-1L-0.6,1L0.6,1Z", "size": 169, "angle": 48.4, "filled": true, "color": "black", "opacity": 1},
 "encoding": {"x": {"field": "x", "type": "quantitative", "axis": null}, "y": {"field": "y", "type": "quantitative", "axis": null}}},
{"data": {"values": [{"x": 218.5, "y": 4.90, "t": "increasing fluence"}]},
 "mark": {"type": "text", "align": "left", "baseline": "alphabetic", "font": "Liberation Sans", "fontSize": 23, "color": "black"},
 "encoding": {"x": {"field": "x", "type": "quantitative", "axis": null}, "y": {"field": "y", "type": "quantitative", "axis": null}, "text": {"field": "t"}}},
{"data": {"values": [{"x": 467.4, "y": 5.20, "t": "(b)"}]},
 "mark": {"type": "text", "align": "right", "baseline": "alphabetic", "font": "Liberation Sans", "fontSize": 22, "color": "black"},
 "encoding": {"x": {"field": "x", "type": "quantitative", "axis": null}, "y": {"field": "y", "type": "quantitative", "axis": null}, "text": {"field": "t"}}}
]
},
{
"width": 589, "height": 225,
"resolve": {"axis": {"x": "independent", "y": "independent"}},
"layer": [
{"data": {"name": "c"}, "transform": [{"fold": ["g1","r1","b1","g2","r2","b2"], "as": ["s","v"]}],
 "mark": {"type": "line", "strokeWidth": 2.8, "strokeJoin": "round"},
 "encoding": {
  "x": {"field": "x", "type": "quantitative", "scale": {"domain": [98, 472], "nice": false, "zero": false},
        "axis": {"orient": "bottom", "values": [100,150,200,250,300,350,400,450], "labels": true, "labelFont": "Liberation Sans Narrow, Liberation Sans", "labelFontSize": 25, "labelColor": "black", "labelBaseline": "alphabetic", "labelPadding": 32, "labelFlush": false, "labelOverlap": false,
                 "tickSize": 9, "tickWidth": 1.5, "tickColor": "black", "domain": true, "domainColor": "black", "domainWidth": 2, "grid": false,
                 "title": "Channel (arb. units)", "titleFont": "Liberation Sans", "titleFontSize": 23, "titleFontWeight": "normal", "titleColor": "black", "titleX": 279, "titleY": 70, "titleAlign": "center", "titleBaseline": "alphabetic"}},
  "y": {"field": "v", "type": "quantitative", "scale": {"domain": [-0.02, 6.40], "nice": false, "zero": false},
        "axis": {"orient": "left", "values": [0,1,2,3,4,5,6], "labels": false, "tickSize": 9, "tickWidth": 1.5, "tickColor": "black", "domain": false, "grid": false, "title": null}},
  "color": {"field": "s", "type": "nominal", "scale": {"domain": ["b1","r1","g1","b2","r2","g2"], "range": ["#4a4af2","#ff0000","#14f078","#4a4af2","#ff0000","#14f078"]}, "legend": null}
 }},
{"data": {"name": "c"}, "transform": [{"fold": ["d1","d2"], "as": ["s","v"]}],
 "mark": {"type": "line", "color": "black", "strokeWidth": 3.2, "strokeDash": [5,4]},
 "encoding": {
  "x": {"field": "x", "type": "quantitative", "axis": {"orient": "top", "values": [100,150,200,250,300,350,400,450], "labels": false, "tickSize": 9, "tickWidth": 1.5, "tickColor": "black", "domain": false, "grid": false, "title": null}},
  "y": {"field": "v", "type": "quantitative", "axis": {"orient": "right", "values": [0,1,2,3,4,5,6], "labels": false, "tickSize": 9, "tickWidth": 1.5, "tickColor": "black", "domain": false, "grid": false, "title": null}},
  "detail": {"field": "s"}
 }},
{"data": {"values": [{"x": 165.8, "y": 0.81, "x2": 258.2, "y2": 4.52}]},
 "mark": {"type": "rule", "color": "black", "strokeWidth": 1.3},
 "encoding": {"x": {"field": "x", "type": "quantitative", "axis": null}, "y": {"field": "y", "type": "quantitative", "axis": null}, "x2": {"field": "x2"}, "y2": {"field": "y2"}}},
{"data": {"values": [{"x": 258.2, "y": 4.52}]},
 "mark": {"type": "point", "shape": "M0,-1L-0.6,1L0.6,1Z", "size": 169, "angle": 48.4, "filled": true, "color": "black", "opacity": 1},
 "encoding": {"x": {"field": "x", "type": "quantitative", "axis": null}, "y": {"field": "y", "type": "quantitative", "axis": null}}},
{"data": {"values": [{"x": 218.5, "y": 5.02, "t": "increasing fluence"}]},
 "mark": {"type": "text", "align": "left", "baseline": "alphabetic", "font": "Liberation Sans", "fontSize": 23, "color": "black"},
 "encoding": {"x": {"field": "x", "type": "quantitative", "axis": null}, "y": {"field": "y", "type": "quantitative", "axis": null}, "text": {"field": "t"}}},
{"data": {"values": [{"x": 467.4, "y": 5.14, "t": "(c)"}]},
 "mark": {"type": "text", "align": "right", "baseline": "alphabetic", "font": "Liberation Sans", "fontSize": 22, "color": "black"},
 "encoding": {"x": {"field": "x", "type": "quantitative", "axis": null}, "y": {"field": "y", "type": "quantitative", "axis": null}, "text": {"field": "t"}}}
]
}
]
}
